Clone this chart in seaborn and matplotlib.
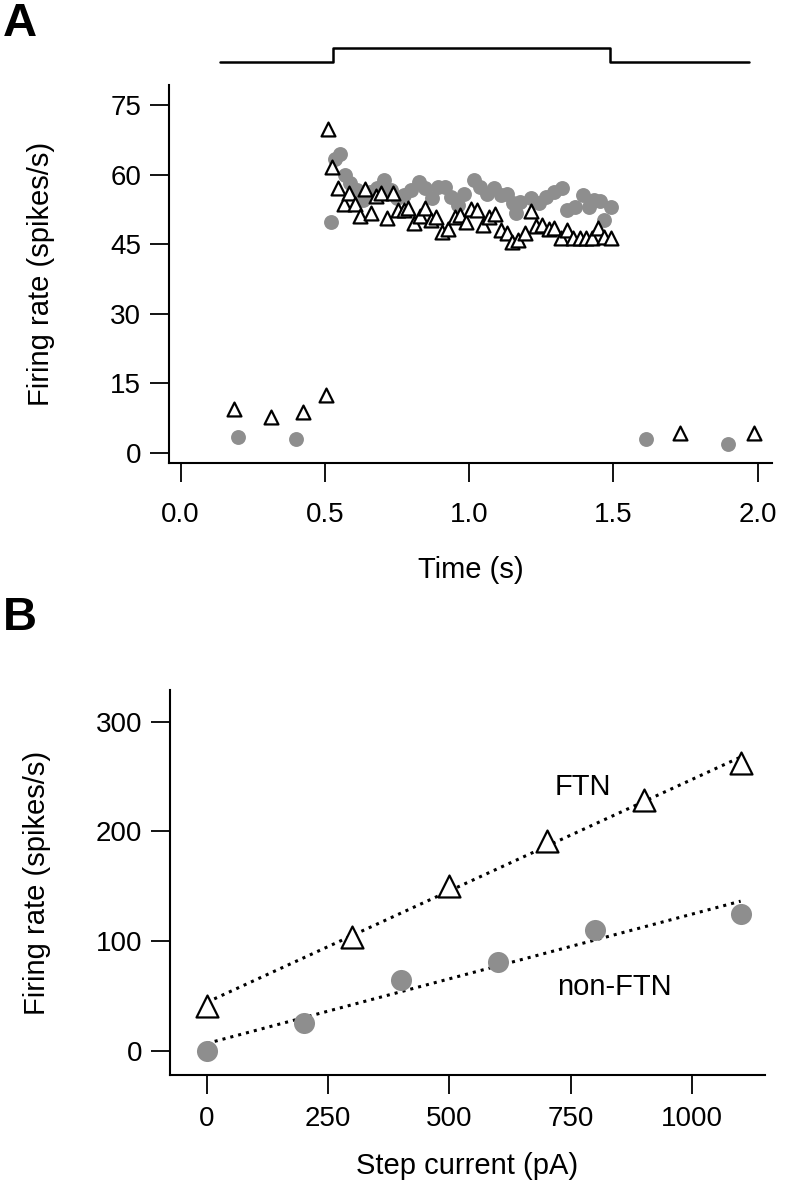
import numpy as np
import pandas as pd
import matplotlib
matplotlib.use("Agg")
import matplotlib.pyplot as plt
import seaborn as sns

# ---- Panel A: firing rate vs time (step current response) ----
ftn_time = [0.186, 0.3125, 0.424, 0.503,
            0.5126, 0.526, 0.547, 0.565, 0.585, 0.603, 0.623, 0.640, 0.661, 0.678,
            0.696, 0.715, 0.735, 0.754, 0.773, 0.790, 0.810, 0.829, 0.848, 0.868,
            0.886, 0.906, 0.927, 0.950, 0.970, 0.990, 1.007, 1.028, 1.049, 1.068,
            1.089, 1.109, 1.130, 1.149, 1.169, 1.193, 1.213, 1.233, 1.254, 1.276,
            1.296, 1.317, 1.340, 1.361, 1.383, 1.404, 1.427, 1.448, 1.467, 1.491,
            1.731, 1.987]
ftn_rate = [9.4, 7.8, 8.7, 12.5,
            69.8, 61.7, 57.2, 53.7, 56.0, 53.8, 51.1, 56.9, 51.7, 55.5,
            56.0, 50.6, 56.1, 52.4, 52.5, 52.8, 49.6, 51.2, 52.8, 50.3,
            51.0, 47.7, 48.4, 51.0, 51.3, 49.9, 52.7, 52.4, 49.2, 50.8,
            51.5, 48.1, 47.4, 45.6, 46.0, 47.4, 52.2, 48.9, 49.2, 48.2,
            48.5, 46.4, 48.1, 46.4, 46.4, 46.4, 46.4, 48.5, 46.5, 46.4,
            4.3, 4.2]

nonftn_time = [0.198, 0.400,
               0.521, 0.536, 0.553, 0.571, 0.588, 0.611, 0.634, 0.657, 0.680, 0.706,
               0.729, 0.750, 0.775, 0.800, 0.825, 0.848, 0.872, 0.892, 0.915, 0.938,
               0.960, 0.983, 1.016, 1.039, 1.062, 1.085, 1.109, 1.132, 1.153, 1.161,
               1.178, 1.213, 1.242, 1.268, 1.294, 1.323, 1.340, 1.366, 1.396, 1.416,
               1.433, 1.454, 1.467, 1.491,
               1.612, 1.899]
nonftn_rate = [3.3, 3.0,
               49.9, 63.5, 64.4, 59.9, 58.3, 56.7, 54.5, 56.3, 57.1, 58.9,
               56.7, 55.0, 55.6, 56.7, 58.5, 57.1, 55.0, 57.4, 57.4, 55.3,
               53.5, 55.9, 58.9, 57.4, 55.9, 57.1, 55.6, 55.9, 53.9, 51.7,
               54.2, 55.0, 53.9, 55.3, 56.3, 57.2, 52.4, 53.1, 55.6, 53.1,
               54.5, 54.4, 50.3, 53.1,
               2.96, 1.95]

# current step trace drawn above panel A
step_time = [0.137, 0.53, 0.53, 1.49, 1.49, 1.97]
step_level = [0, 0, 1, 1, 0, 0]

# ---- Panel B: firing rate vs step current ----
ftn_current = [0, 300, 500, 700, 900, 1100]
ftn_fr = [41, 104, 150, 191, 229, 262]
nonftn_current = [0, 200, 400, 600, 800, 1100]
nonftn_fr = [0, 25, 65, 81, 110, 125]

sns.set_theme(style="ticks")
plt.rcParams['font.family'] = ['Liberation Sans', 'DejaVu Sans']
plt.rcParams.update({
    'axes.linewidth': 1.5,
    'xtick.major.width': 1.3,
    'ytick.major.width': 1.3,
    'xtick.major.size': 14,
    'ytick.major.size': 14,
    'xtick.labelsize': 20,
    'ytick.labelsize': 20,
    'axes.labelsize': 21,
    'xtick.color': 'black',
    'ytick.color': 'black',
    'axes.edgecolor': 'black',
    'axes.labelcolor': 'black',
    'text.color': 'black',
})

gray = '#8e8e8e'
fig = plt.figure(figsize=(7.88, 12), dpi=100)

ax_step = fig.add_axes([0.2145, 0.9458, 0.7652, 0.0208])
ax_a = fig.add_axes([0.2145, 0.6142, 0.7652, 0.315])
ax_b = fig.add_axes([0.2157, 0.1042, 0.755, 0.3208])

# stimulus trace
sns.lineplot(x=step_time, y=step_level, ax=ax_step, color='black', lw=1.8,
             sort=False, estimator=None)
ax_step.set_xlim(-0.04, 2.05)
ax_step.set_ylim(-0.2, 1.6)
ax_step.axis('off')

# panel A
df_ftn = pd.DataFrame({'t': ftn_time, 'rate': ftn_rate})
df_non = pd.DataFrame({'t': nonftn_time, 'rate': nonftn_rate})
sns.scatterplot(data=df_non, x='t', y='rate', ax=ax_a, color=gray, s=115,
                marker='o', linewidth=0, zorder=2)
sns.scatterplot(data=df_ftn, x='t', y='rate', ax=ax_a, facecolor='white',
                edgecolor='black', s=100, marker='^', linewidth=1.6, zorder=3)
ax_a.set_xlim(-0.04, 2.05)
ax_a.set_ylim(-2.2, 79.4)
ax_a.set_xticks([0, 0.5, 1.0, 1.5, 2.0])
ax_a.set_xticklabels(['0.0', '0.5', '1.0', '1.5', '2.0'])
ax_a.set_yticks([0, 15, 30, 45, 60, 75])
ax_a.tick_params(axis='x', pad=14)
ax_a.tick_params(axis='y', pad=6)
ax_a.set_xlabel('Time (s)', labelpad=20)
ax_a.set_ylabel('Firing rate (spikes/s)', labelpad=40)
sns.despine(ax=ax_a)

# panel B
sns.regplot(x=ftn_current, y=ftn_fr, ax=ax_b, scatter=False, ci=None, truncate=True,
            line_kws=dict(color='black', ls=':', lw=2.2))
sns.regplot(x=nonftn_current, y=nonftn_fr, ax=ax_b, scatter=False, ci=None, truncate=True,
            line_kws=dict(color='black', ls=':', lw=2.2))
sns.scatterplot(x=nonftn_current, y=nonftn_fr, ax=ax_b, color=gray, s=230,
                marker='o', linewidth=0, zorder=3)
sns.scatterplot(x=ftn_current, y=ftn_fr, ax=ax_b, facecolor='white',
                edgecolor='black', s=250, marker='^', linewidth=1.6, zorder=4)
ax_b.set_xlim(-76, 1150)
ax_b.set_ylim(-22, 329)
ax_b.set_xticks([0, 250, 500, 750, 1000])
ax_b.set_yticks([0, 100, 200, 300])
ax_b.tick_params(axis='x', pad=8)
ax_b.tick_params(axis='y', pad=6)
ax_b.set_xlabel('Step current (pA)', labelpad=15)
ax_b.set_ylabel('Firing rate (spikes/s)', labelpad=32)
ax_b.text(775, 241, 'FTN', fontsize=21, ha='center', va='center')
ax_b.text(840, 58, 'non-FTN', fontsize=21, ha='center', va='center')
sns.despine(ax=ax_b)

fig.text(0.004, 0.998, 'A', fontsize=34, fontweight='bold', va='top', ha='left')
fig.text(0.004, 0.503, 'B', fontsize=34, fontweight='bold', va='top', ha='left')

fig.savefig('out.png', dpi=100)
